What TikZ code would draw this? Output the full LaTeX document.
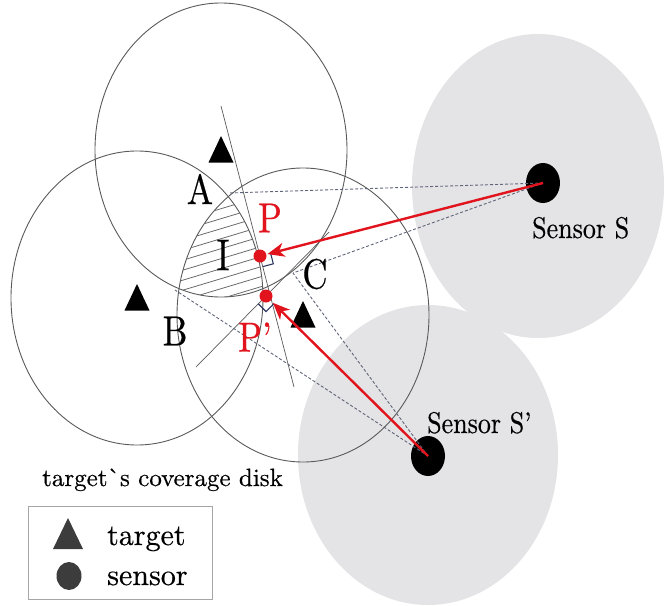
\documentclass[tikz,border=0pt]{standalone}
\usepackage{fontspec}
\setmainfont{lmroman10-regular.otf}[RawFeature={embolden=0.5}]
\usetikzlibrary{arrows.meta,calc,shapes.geometric}
\definecolor{diskgray}{RGB}{228,228,230}
\definecolor{ringgray}{RGB}{90,90,90}
\definecolor{dashgray}{RGB}{95,100,120}
\definecolor{hatchgray}{RGB}{105,105,105}
\definecolor{redc}{RGB}{225,20,30}
\definecolor{markc}{RGB}{45,55,95}
\definecolor{leggray}{RGB}{60,60,60}
\newcommand\vstr[2]{\scalebox{1}[#1]{#2}}
\tikzset{
  sensordisk/.style={fill=diskgray},
  ring/.style={draw=ringgray,line width=0.9pt},
  hatchline/.style={draw=hatchgray,line width=0.8pt},
  thinline/.style={draw=ringgray,line width=0.7pt},
  dashline/.style={draw=dashgray,line width=0.9pt,dash pattern=on 3pt off 2pt},
  redarrow/.style={draw=redc,line width=2.4pt,-{Stealth[length=17pt,width=14pt,inset=5pt]}},
  reddot/.style={circle,fill=redc,minimum size=13pt,inner sep=0pt},
  sensor/.style={ellipse,fill=black,minimum width=34pt,minimum height=40pt,inner sep=0pt},
  rightmark/.style={draw=markc,line width=1.1pt},
  lbl/.style={font=\fontsize{35}{35}\selectfont,inner sep=0pt},
  redlbl/.style={lbl,text=redc},
  senslbl/.style={font=\fontsize{26}{26}\selectfont,inner sep=0pt,anchor=base west},
  leglbl/.style={font=\fontsize{30}{30}\selectfont,inner sep=0pt,anchor=base west},
  legbox/.style={draw=gray!70,line width=0.9pt,minimum width=184pt,minimum height=93pt,inner sep=0pt},
  target/.pic={\fill (-12.5,12.5) -- (0,-14) -- (12.5,12.5) -- cycle;},
  legtarget/.pic={\fill[leggray] (-15,15) -- (0,-16) -- (15,15) -- cycle;}
}
\begin{document}
\begin{tikzpicture}[x=1pt,y=-1pt]
\useasboundingbox (0,0) rectangle (665,606);
% sensing disks of sensors
\fill[sensordisk] (538,186) ellipse [x radius=126pt, y radius=152pt];
\fill[sensordisk] (428,455) ellipse [x radius=130pt, y radius=150pt];
% target coverage disks
\coordinate (T1) at (221,150);
\coordinate (T2) at (137,298);
\coordinate (T3) at (303,315);
\draw[ring] (T1) ellipse [x radius=126pt, y radius=147pt];
\draw[ring] (T2) ellipse [x radius=126pt, y radius=147pt];
\draw[ring] (T3) ellipse [x radius=126pt, y radius=147pt];
% hatched region I
\begin{scope}
\clip (T1) ellipse [x radius=126pt, y radius=147pt];
\clip (T2) ellipse [x radius=126pt, y radius=147pt];
\clip (T3) ellipse [x radius=126pt, y radius=147pt];
\foreach \k in {0,...,15} \draw[hatchline] (150,180+10*\k) -- ++(150,-45);
\end{scope}
% key points
\coordinate (A) at (229,193);
\coordinate (B) at (175,290);
\coordinate (C) at (293,273);
\node[sensor] (S) at (543,183) {};
\node[sensor] (Sp) at (428,456) {};
% perpendicular lines
\coordinate (L1a) at (221,106);
\coordinate (L1b) at (294,387);
\coordinate (L2a) at (329,232);
\coordinate (L2b) at (196,367);
\draw[thinline] (L1a) -- (L1b);
\draw[thinline] (L2a) -- (L2b);
% dashed tangent lines
\draw[dashline] (S.center) -- (A);
\draw[dashline] (S.center) -- (C);
\draw[dashline] (Sp.center) -- (B);
\draw[dashline] (Sp.center) -- (C);
% targets
\pic at (T1) {target};
\pic at (T2) {target};
\pic at (T3) {target};
% moved positions
\node[reddot] (P) at (260,256) {};
\node[reddot] (Pp) at (266,296) {};
\draw[rightmark] (270.6,253.2) -- (273.3,263.8) -- (262.8,266.6);
\draw[rightmark] (273.8,303.7) -- (266.1,311.6) -- (258.3,303.8);
\draw[redarrow,shorten >=1pt] (S.center) -- (P);
\draw[redarrow,shorten >=3pt] (Sp.center) -- (Pp);
% labels
\node[lbl] (lA) at (200,189) {\vstr{1.2}{A}};
\node[lbl] (lB) at (175,331) {\vstr{1.2}{B}};
\node[lbl] (lC) at (315,274) {\vstr{1.2}{C}};
\node[lbl,font=\fontsize{37}{37}\selectfont] (lI) at (223,255) {\vstr{1.2}{I}};
\node[redlbl] (lP) at (270,218) {\vstr{1.2}{P}};
\node[redlbl] (lPp) at (255,337) {\vstr{1.2}{P’}};
\node[senslbl] (lS) at (532,238) {\vstr{1.15}{Sensor S}};
\node[senslbl] (lSp) at (427,433) {\vstr{1.15}{Sensor S’}};
\node[senslbl,font=\fontsize{25}{25}\selectfont] (cap) at (42,486) {target\textasciigrave s coverage disk};
% legend
\node[legbox] (leg) at (120,552.5) {};
\pic at (68,534) {legtarget};
\node[ellipse,fill=leggray,minimum width=25pt,minimum height=28pt,inner sep=0pt] (legdot) at (69,576) {};
\node[leglbl] (legt) at (107,545) {target};
\node[leglbl] (legs) at (107,585) {sensor};
\end{tikzpicture}
\end{document}
